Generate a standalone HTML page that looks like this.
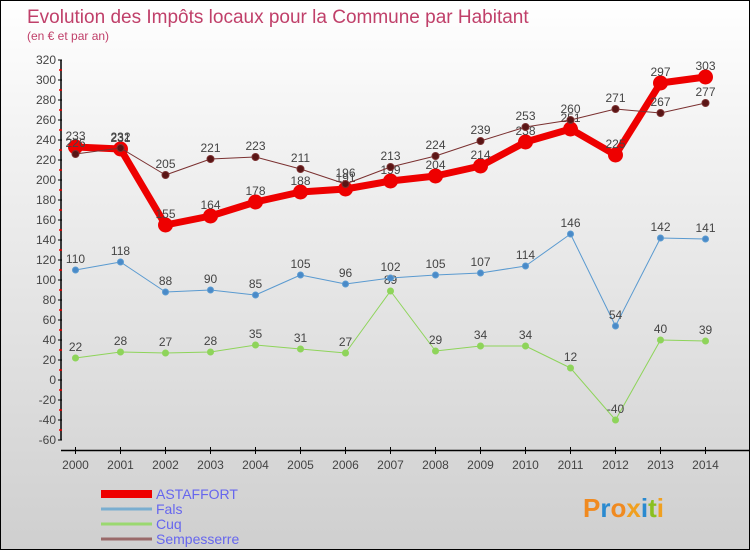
<!DOCTYPE html>
<html><head><meta charset="utf-8"><style>
body{margin:0}
#c{width:748px;height:548px;border:1px solid #000;background:linear-gradient(#fff,#f0f0f0 30%,#cfcfcf);position:relative;font-family:"Liberation Sans",sans-serif;overflow:hidden}
</style></head><body>
<div id="c">
<svg id="s" width="748" height="548" style="position:absolute;left:0;top:0">
<text x="26" y="22" font-size="19" fill="#c0406a">Evolution des Impôts locaux pour la Commune par Habitant</text>
<text x="26" y="39" font-size="12" fill="#c0406a">(en € et par an)</text>
<g id="g"></g>
</svg>
</div>
<script>
const years=[2000,2001,2002,2003,2004,2005,2006,2007,2008,2009,2010,2011,2012,2013,2014];
const yTicks=[320,300,280,260,240,220,200,180,160,140,120,100,80,60,40,20,0,-20,-40,-60];
const astaffort=[233,231,155,164,178,188,191,199,204,214,238,251,225,297,303];
const fals=[110,118,88,90,85,105,96,102,105,107,114,146,54,142,141];
const cuq=[22,28,27,28,35,31,27,89,29,34,34,12,-40,40,39];
const sempesserre=[226,232,205,221,223,211,196,213,224,239,253,260,271,267,277];
const seriesNames=["ASTAFFORT","Fals","Cuq","Sempesserre"];
const X=i=>74.5+45*i, Y=v=>379-v;
const g=document.getElementById('g'),NS='http://www.w3.org/2000/svg';
function mk(t,a,p){const e=document.createElementNS(NS,t);for(const k in a)e.setAttribute(k,a[k]);(p||g).appendChild(e);return e;}
let e=mk('line',{x1:60,y1:Y(320),x2:60,y2:Y(-60),stroke:'#000','stroke-width':1.5});


yTicks.forEach(v=>{
 let t=mk('line',{x1:57,x2:61,y1:Y(v),y2:Y(v),stroke:'#000'});
 
 
 if(v!==-60)mk('line',{x1:58,x2:61,y1:Y(v)+10,y2:Y(v)+10,stroke:'#e00','stroke-width':1.5});
 let l=mk('text',{x:55,y:Y(v)+4,'text-anchor':'end','font-size':12,fill:'#444'});l.textContent=v;
 
 
});
e=mk('line',{x1:60,y1:449.5,x2:748,y2:449.5,stroke:'#000','stroke-width':1.5});


years.forEach((y,i)=>{
 mk('line',{x1:X(i),x2:X(i),y1:446,y2:453,stroke:'#000'});
 let l=mk('text',{x:X(i),y:468,'text-anchor':'middle','font-size':12,fill:'#444'});l.textContent=y;
 
 
});
function series(d,col,w,r,name,dot){
 let p=mk('polyline',{points:d.map((v,i)=>X(i)+','+Y(v)).join(' '),fill:'none',stroke:col,'stroke-width':w,'stroke-linejoin':'round'});
 
 
 d.forEach((v,i)=>{
  let c=mk('circle',{cx:X(i),cy:Y(v),r:r,fill:dot,stroke:col,'stroke-width':1});
  
  
  let t=mk('text',{x:X(i),y:Y(v)-7,'text-anchor':'middle','font-size':12,fill:'#444'});t.textContent=v;
  
  
 });
}
series(cuq,'#8ed45a',1,3,'cuq','#8ed45a');
series(fals,'#5a9ad0',1,3,'fals','#4a8ac8');
series(astaffort,'#ee0000',7,7,'astaffort','#ee0000');
series(sempesserre,'#7a3030',1,3.5,'sempesserre','#5a1515');
const lc=['#ee0000','#7aaed0','#9ad870','#9a6a6a'],lw=[8,3,3,3];
seriesNames.forEach((n,i)=>{
 let yy=493+i*15;
 let l=mk('line',{x1:100,x2:151,y1:yy,y2:yy,stroke:lc[i],'stroke-width':lw[i]});
 
 
 let t=mk('text',{x:155,y:yy+5,'font-size':14,fill:'#6666ee'});t.textContent=n;
 
 
});
let b=mk('text',{x:582,y:516,'font-size':26,'font-weight':'bold',fill:'#f08a20'});


const lcols=['#f08a20','#2a8ad0','#f08a20','#f0a020','#2a8ad0','#8ac020','#f0a020'];
'Proxiti'.split('').forEach((ch,i)=>{let s=mk('tspan',{fill:lcols[i]},b);s.textContent=ch;});
</script>
</body></html>
